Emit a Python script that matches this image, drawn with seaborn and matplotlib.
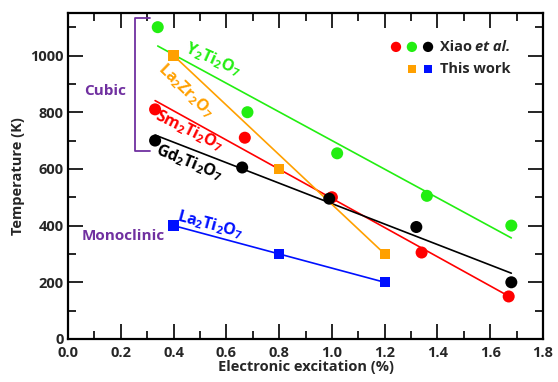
import numpy as np
import pandas as pd
import matplotlib
matplotlib.use("Agg")
import matplotlib.pyplot as plt
import seaborn as sns

# Data (Xiao et al.)
sm_x = [0.33, 0.67, 1.00, 1.34, 1.67]
sm_y = [810, 710, 500, 305, 150]
y_x = [0.34, 0.68, 1.02, 1.36, 1.68]
y_y = [1100, 800, 655, 505, 400]
gd_x = [0.33, 0.66, 0.99, 1.32, 1.68]
gd_y = [700, 605, 495, 395, 200]
# This work
lz_x = [0.4, 0.8, 1.2]
lz_y = [1000, 600, 300]
lt_x = [0.4, 0.8, 1.2]
lt_y = [400, 300, 200]

sns.set_style("ticks")
FONT = 'Open Sans'
plt.rcParams['font.family'] = [FONT, 'DejaVu Sans']
plt.rcParams['mathtext.fontset'] = 'custom'
plt.rcParams['mathtext.rm'] = FONT + ':bold'
plt.rcParams['mathtext.it'] = FONT + ':bold'
plt.rcParams['mathtext.bf'] = FONT + ':bold'
plt.rcParams['mathtext.default'] = 'bf'

fig = plt.figure(figsize=(5.58, 3.82), dpi=100)
ax = fig.add_axes([0.1219, 0.1126, 0.8512, 0.8534])

RED, GREEN, BLACK, ORANGE, BLUE = '#ff0000', '#22ee11', '#000000', '#ffa000', '#0010ff'
PURPLE = '#7030a0'

def fit_line(x, y, color):
    x = np.asarray(x, float); y = np.asarray(y, float)
    k, b = np.polyfit(x, y, 1)
    xs = np.array([x.min(), x.max()])
    df = pd.DataFrame({'x': xs, 'y': k * xs + b})
    sns.lineplot(data=df, x='x', y='y', color=color, lw=1.2, ax=ax)

def line_pts(x, y, color):
    df = pd.DataFrame({'x': [x[0], x[-1]], 'y': [y[0], y[-1]]})
    sns.lineplot(data=df, x='x', y='y', color=color, lw=1.2, ax=ax)

fit_line(y_x, y_y, GREEN)
fit_line(sm_x, sm_y, RED)
fit_line(gd_x, gd_y, BLACK)
line_pts(lz_x, lz_y, ORANGE)
line_pts(lt_x, lt_y, BLUE)

for x, y, c in [(sm_x, sm_y, RED), (y_x, y_y, GREEN), (gd_x, gd_y, BLACK)]:
    sns.scatterplot(x=x, y=y, color=c, s=75, marker='o', edgecolor='none', ax=ax, zorder=3)
for x, y, c in [(lz_x, lz_y, ORANGE), (lt_x, lt_y, BLUE)]:
    sns.scatterplot(x=x, y=y, color=c, s=55, marker='s', edgecolor='none', ax=ax, zorder=3)

ax.set_xlim(0, 1.8)
ax.set_ylim(0, 1150)
ax.set_xticks(np.arange(0, 1.81, 0.2))
ax.set_xticks(np.arange(0, 1.81, 0.1), minor=True)
ax.set_yticks(np.arange(0, 1001, 200))
ax.set_yticks(np.arange(0, 1101, 100), minor=True)
ax.set_xticklabels([f"{v:.1f}" for v in np.arange(0, 1.81, 0.2)])
ax.tick_params(which='both', direction='in', top=True, right=True, width=1.2, color='black')
ax.tick_params(which='major', length=11, labelsize=10.5, pad=4)
ax.tick_params(which='minor', length=5.5)
ax.tick_params(axis='y', pad=3)
ax.tick_params(axis='x', pad=5)
for lab in ax.get_xticklabels() + ax.get_yticklabels():
    lab.set_fontweight('bold')
for s in ax.spines.values():
    s.set_linewidth(1.6)
    s.set_color('black')

ax.set_xlabel('Electronic excitation (%)', fontsize=10.5, fontweight='bold', labelpad=0)
ax.set_ylabel('Temperature (K)', fontsize=10.5, fontweight='bold', labelpad=4)

# Compound labels
fs = 11.5
ax.text(0.55, 985, r'Y$_2$Ti$_2$O$_7$', color=GREEN, fontsize=fs, fontweight='bold', rotation=-24, ha='center', va='center')
ax.text(0.445, 876, r'La$_2$Zr$_2$O$_7$', color=ORANGE, fontsize=fs, fontweight='bold', rotation=-44, ha='center', va='center')
ax.text(0.46, 735, r'Sm$_2$Ti$_2$O$_7$', color=RED, fontsize=fs, fontweight='bold', rotation=-26, ha='center', va='center')
ax.text(0.46, 622, r'Gd$_2$Ti$_2$O$_7$', color=BLACK, fontsize=fs, fontweight='bold', rotation=-22, ha='center', va='center')
ax.text(0.54, 403, r'La$_2$Ti$_2$O$_7$', color=BLUE, fontsize=fs, fontweight='bold', rotation=-15, ha='center', va='center')

ax.text(0.14, 876, 'Cubic', color=PURPLE, fontsize=11, fontweight='bold', ha='center', va='center')
ax.text(0.21, 364, 'Monoclinic', color=PURPLE, fontsize=11, fontweight='bold', ha='center', va='center')
# bracket
ax.plot([0.31, 0.254, 0.254, 0.31], [1131, 1131, 664, 664], color=PURPLE, lw=1.3, clip_on=False)

# Legend (manual, in axes coords)
ax.scatter([0.6905, 0.724, 0.758], [0.896, 0.896, 0.896], transform=ax.transAxes, s=55,
           c=[RED, GREEN, BLACK], marker='o', edgecolors='none', clip_on=False)
ax.scatter([0.724, 0.758], [0.828, 0.828], transform=ax.transAxes, s=28,
           c=[ORANGE, BLUE], marker='s', edgecolors='none', clip_on=False)
ax.text(0.783, 0.896, 'Xiao', transform=ax.transAxes, fontsize=10.5, fontweight='bold', va='center', ha='left')
ax.text(0.857, 0.896, 'et al.', transform=ax.transAxes, fontsize=10.5, fontweight='bold', style='italic', va='center', ha='left')
ax.text(0.783, 0.828, 'This work', transform=ax.transAxes, fontsize=10.5, fontweight='bold', va='center', ha='left')

fig.savefig('out.png', dpi=100)
